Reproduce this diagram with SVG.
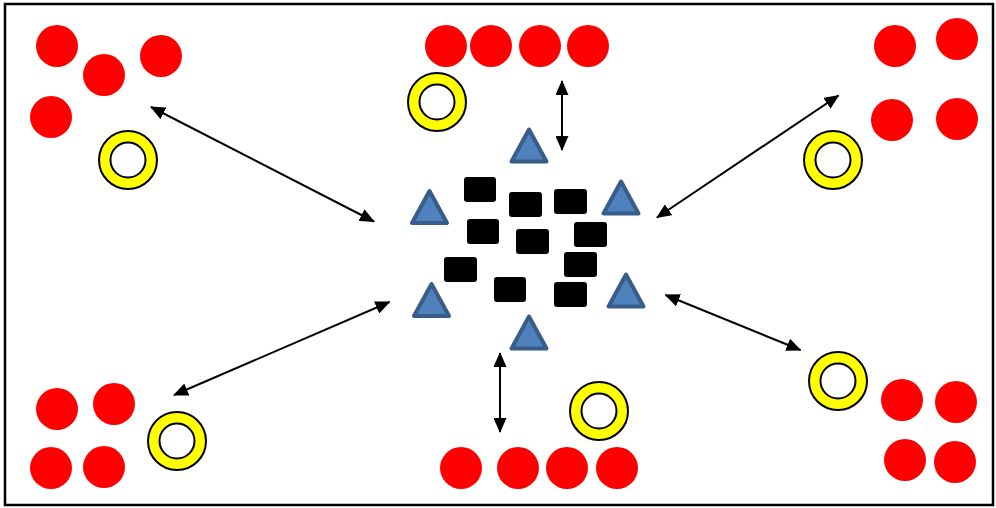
<svg xmlns="http://www.w3.org/2000/svg" width="996" height="508" viewBox="0 0 996 508">
<style>
.p{fill:#FF0000}
.ro{fill:#FFFF00;stroke:#000;stroke-width:2}
.ri{fill:#FFFFFF;stroke:#000;stroke-width:2}
.tri{fill:#4F81BD;stroke:#385D8A;stroke-width:4;stroke-linejoin:round}
.blk{fill:#000}
.ar{stroke:#000;stroke-width:2;fill:none;marker-start:url(#ah);marker-end:url(#ah)}
</style>
<defs>
<marker id="ah" markerUnits="userSpaceOnUse" markerWidth="15" markerHeight="13" refX="14" refY="6.5" orient="auto-start-reverse" viewBox="0 0 15 13">
<path d="M0,0 L15,6.5 L0,13 Z" fill="#000"/>
</marker>
<path id="t" d="M0,-16 L17.5,16 L-17.5,16 Z"/>
<g id="ring"><circle r="29" class="ro"/><circle r="17.5" class="ri"/></g>
</defs>
<rect x="0" y="0" width="996" height="508" fill="#fff"/>
<rect id="border" x="5" y="4" width="988" height="501" fill="#fff" stroke="#000" stroke-width="2.5"/>

<g id="group-top-left">
<circle class="p" cx="57" cy="46" r="21"/><circle class="p" cx="104" cy="75" r="21"/><circle class="p" cx="161" cy="56" r="21"/><circle class="p" cx="51" cy="117" r="21"/>
<use href="#ring" x="128" y="160"/>
</g>
<g id="group-top-mid">
<circle class="p" cx="446" cy="46" r="21"/><circle class="p" cx="491" cy="46" r="21"/><circle class="p" cx="540" cy="46" r="21"/><circle class="p" cx="588" cy="46" r="21"/>
<use href="#ring" x="437" y="102"/>
</g>
<g id="group-top-right">
<circle class="p" cx="895" cy="46" r="21"/><circle class="p" cx="957" cy="39" r="21"/><circle class="p" cx="892" cy="120" r="21"/><circle class="p" cx="957" cy="119" r="21"/>
<use href="#ring" x="833" y="160"/>
</g>
<g id="group-bottom-left">
<circle class="p" cx="57" cy="409" r="21"/><circle class="p" cx="114" cy="404" r="21"/><circle class="p" cx="51" cy="468" r="21"/><circle class="p" cx="104" cy="467" r="21"/>
<use href="#ring" x="177" y="441"/>
</g>
<g id="group-bottom-mid">
<circle class="p" cx="461" cy="468" r="21"/><circle class="p" cx="518" cy="468" r="21"/><circle class="p" cx="567" cy="468" r="21"/><circle class="p" cx="617" cy="468" r="21"/>
<use href="#ring" x="599" y="411"/>
</g>
<g id="group-bottom-right">
<circle class="p" cx="902" cy="400" r="21"/><circle class="p" cx="956" cy="402" r="21"/><circle class="p" cx="905" cy="460" r="21"/><circle class="p" cx="955" cy="462" r="21"/>
<use href="#ring" x="838" y="381"/>
</g>

<g id="center">
<g id="triangles">
<use href="#t" class="tri" x="529" y="145.5"/>
<use href="#t" class="tri" x="429.5" y="207"/>
<use href="#t" class="tri" x="621" y="197.5"/>
<use href="#t" class="tri" x="431.5" y="300"/>
<use href="#t" class="tri" x="626" y="290.5"/>
<use href="#t" class="tri" x="529" y="332.5"/>
</g>
<g id="blocks">
<rect class="blk" x="464" y="177" width="32" height="25" rx="3"/>
<rect class="blk" x="509" y="192" width="33" height="25" rx="3"/>
<rect class="blk" x="554" y="189" width="33" height="25" rx="3"/>
<rect class="blk" x="467" y="219" width="32" height="25" rx="3"/>
<rect class="blk" x="516" y="229" width="33" height="25" rx="3"/>
<rect class="blk" x="574" y="222" width="33" height="25" rx="3"/>
<rect class="blk" x="444" y="257" width="33" height="25" rx="3"/>
<rect class="blk" x="564" y="252" width="33" height="25" rx="3"/>
<rect class="blk" x="494" y="277" width="32" height="25" rx="3"/>
<rect class="blk" x="554" y="282" width="33" height="25" rx="3"/>
</g>
</g>

<g id="connectors">
<line class="ar" x1="151" y1="107" x2="374" y2="221.5"/>
<line class="ar" x1="562" y1="81" x2="562" y2="150"/>
<line class="ar" x1="657" y1="217.5" x2="838.5" y2="95.5"/>
<line class="ar" x1="389.5" y1="302" x2="174" y2="395"/>
<line class="ar" x1="500" y1="353" x2="500" y2="432"/>
<line class="ar" x1="665.5" y1="295" x2="800.5" y2="350"/>
</g>
</svg>
